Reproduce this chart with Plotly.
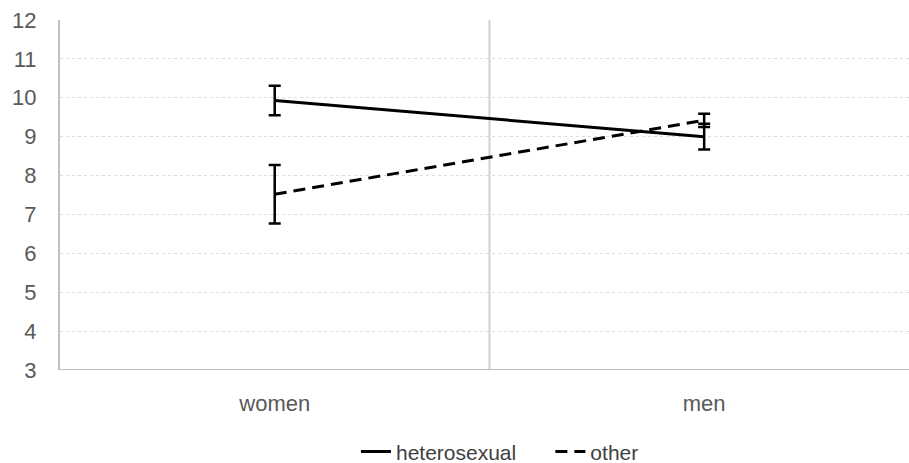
import plotly.graph_objects as go

categories = ["women", "men"]
series_names = ["heterosexual", "other"]
hetero_mean = [9.93, 9.0]
hetero_err = [0.38, 0.33]
other_mean = [7.52, 9.42]
other_err = [0.75, 0.17]
y_ticks = [3, 4, 5, 6, 7, 8, 9, 10, 11, 12]

xpos = list(range(len(categories)))
pad = "\u00a0" * 5

fig = go.Figure()
fig.add_trace(go.Scatter(
    x=xpos, y=hetero_mean, name=series_names[0] + pad, mode="lines",
    line=dict(color="black", width=3),
    error_y=dict(type="data", array=hetero_err, color="black", thickness=2.5, width=6),
))
fig.add_trace(go.Scatter(
    x=xpos, y=other_mean, name=series_names[1], mode="lines",
    line=dict(color="black", width=3, dash="12px,7px"),
    error_y=dict(type="data", array=other_err, color="black", thickness=2.5, width=6),
))

fig.add_shape(type="line", x0=0.5, x1=0.5, y0=3, y1=12, xref="x", yref="y",
              line=dict(color="#d0d0d0", width=2), layer="below")

font_color = "#595959"
fig.update_layout(
    width=909, height=463,
    margin=dict(l=60, r=0, t=20, b=93, autoexpand=False),
    paper_bgcolor="white", plot_bgcolor="white",
    font=dict(family="Liberation Sans, Arial, sans-serif", size=22, color=font_color),
    showlegend=True,
    legend=dict(orientation="h", xref="container", yref="container",
                x=0.55, xanchor="center", y=0.024, yanchor="middle",
                font=dict(size=21, color="#404040"), itemwidth=30),
    xaxis=dict(
        range=[-0.5, 1.477], tickvals=xpos, ticktext=categories,
        showgrid=False, zeroline=False, showline=False, ticks="",
        ticklabelstandoff=18, automargin=False,
    ),
    yaxis=dict(
        range=[3, 12], tickvals=y_ticks, showgrid=True,
        gridcolor="#dcdcdc", griddash="dot", gridwidth=1,
        zeroline=False, showline=True, linecolor="#bfbfbf", linewidth=2,
        ticks="", ticklabelstandoff=17, automargin=False,
    ),
)
fig.add_shape(type="line", x0=0, x1=1, y0=3, y1=3, xref="paper", yref="y",
              line=dict(color="#bfbfbf", width=2))

fig.write_html("out.html", config={"displayModeBar": False},
               post_script="document.body.style.margin='0';document.body.style.overflow='hidden';")
